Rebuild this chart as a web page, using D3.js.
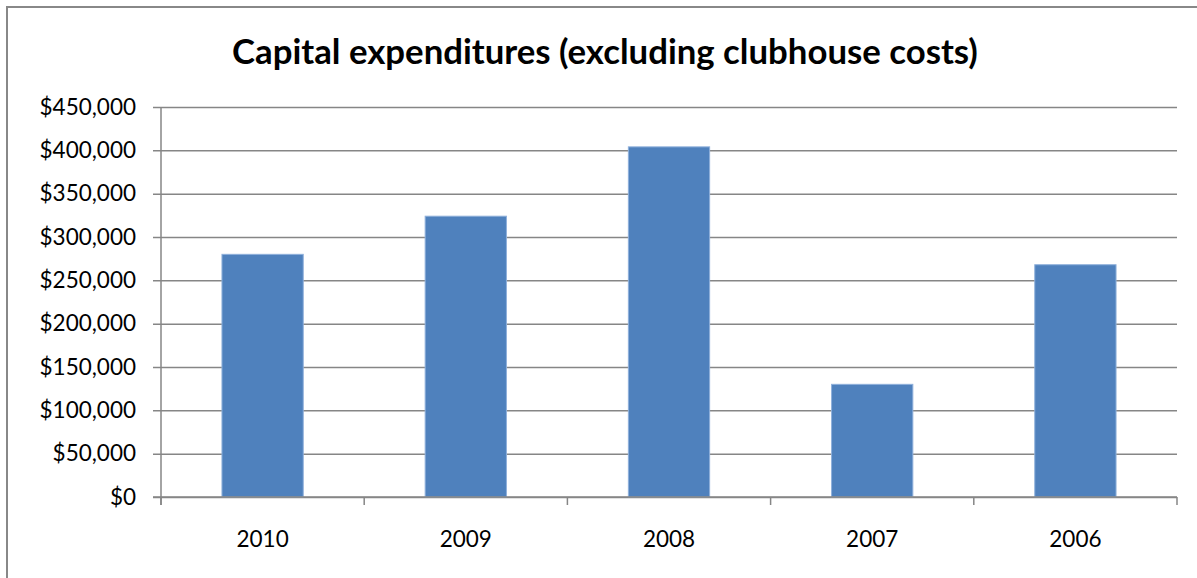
<!DOCTYPE html>
<html>
<head>
<meta charset="utf-8">
<script src="https://cdn.jsdelivr.net/npm/d3@7"></script>
<style>
  html, body { margin: 0; padding: 0; background: #fff; }
  svg { display: block; font-family: Lato, "Open Sans", sans-serif; }
</style>
</head>
<body>
<div id="chart"></div>
<script>
// Chart data
const years = ['2010', '2009', '2008', '2007', '2006'];
const expenditures = [280000, 324000, 404000, 130000, 268000];
const yTicks = [0, 50000, 100000, 150000, 200000, 250000, 300000, 350000, 400000, 450000];
const titleText = 'Capital expenditures (excluding clubhouse costs)';

const W = 1197, H = 578;
const margin = { top: 107, right: 20, bottom: 81, left: 161 };
const width = 1177 - margin.left;
const height = 497 - margin.top;

const svg = d3.select('#chart').append('svg')
  .attr('width', W).attr('height', H);

// outer chart border (top + left visible)
svg.append('path')
  .attr('d', `M7,${H + 2} V7 H${W + 2}`)
  .attr('fill', 'none')
  .attr('stroke', '#888')
  .attr('stroke-width', 2);

// Title, scaled to the reference width
const title = svg.append('text')
  .attr('x', 605).attr('y', 64)
  .attr('text-anchor', 'middle')
  .attr('font-size', 32)
  .attr('font-weight', 700)
  .attr('fill', '#000')
  .text(titleText);
const tw = title.node().getComputedTextLength();
title.attr('font-size', 32 * 746 / tw);

const g = svg.append('g')
  .attr('transform', `translate(${margin.left},${margin.top})`);

const x = d3.scaleBand()
  .domain(years)
  .range([0, width])
  .paddingInner(0.6)
  .paddingOuter(0.3);

const y = d3.scaleLinear()
  .domain([0, 450000])
  .range([height, 0]);

// gridlines + y ticks
const yAxis = g.append('g')
  .call(d3.axisLeft(y).tickValues(yTicks).tickSize(-width).tickSizeOuter(0)
    .tickFormat(d => '$' + d3.format(',')(d)));
yAxis.select('.domain').remove();
yAxis.selectAll('.tick line')
  .attr('x1', -8)
  .attr('stroke', '#868686')
  .attr('stroke-width', 1.5);
yAxis.selectAll('.tick text')
  .attr('x', -25)
  .attr('font-size', 22.5)
  .attr('font-family', 'Lato, sans-serif')
  .attr('fill', '#000');

// bars
g.selectAll('rect.bar')
  .data(expenditures)
  .join('rect')
  .attr('class', 'bar')
  .attr('x', (d, i) => x(years[i]))
  .attr('y', d => y(d))
  .attr('width', x.bandwidth())
  .attr('height', d => height - y(d))
  .attr('fill', '#4F81BD')
  .attr('stroke', '#8fb0db')
  .attr('stroke-width', 1);

// y axis line
g.append('line')
  .attr('x1', 0).attr('x2', 0)
  .attr('y1', 0).attr('y2', height + 8)
  .attr('stroke', '#868686')
  .attr('stroke-width', 1.5);

// x axis line and category boundary ticks
g.append('line')
  .attr('x1', -8).attr('x2', width)
  .attr('y1', height).attr('y2', height)
  .attr('stroke', '#868686')
  .attr('stroke-width', 1.5);

const step = x.step();
const bounds = d3.range(years.length + 1).map(i => i * width / years.length);
g.selectAll('line.cat')
  .data(bounds)
  .join('line')
  .attr('class', 'cat')
  .attr('x1', d => d).attr('x2', d => d)
  .attr('y1', height).attr('y2', height + 8)
  .attr('stroke', '#868686')
  .attr('stroke-width', 1.5);

// x labels
g.selectAll('text.xlab')
  .data(years)
  .join('text')
  .attr('class', 'xlab')
  .attr('x', d => x(d) + x.bandwidth() / 2)
  .attr('y', height + 50)
  .attr('text-anchor', 'middle')
  .attr('font-size', 22.5)
  .attr('fill', '#000')
  .text(d => d);
</script>
</body>
</html>
